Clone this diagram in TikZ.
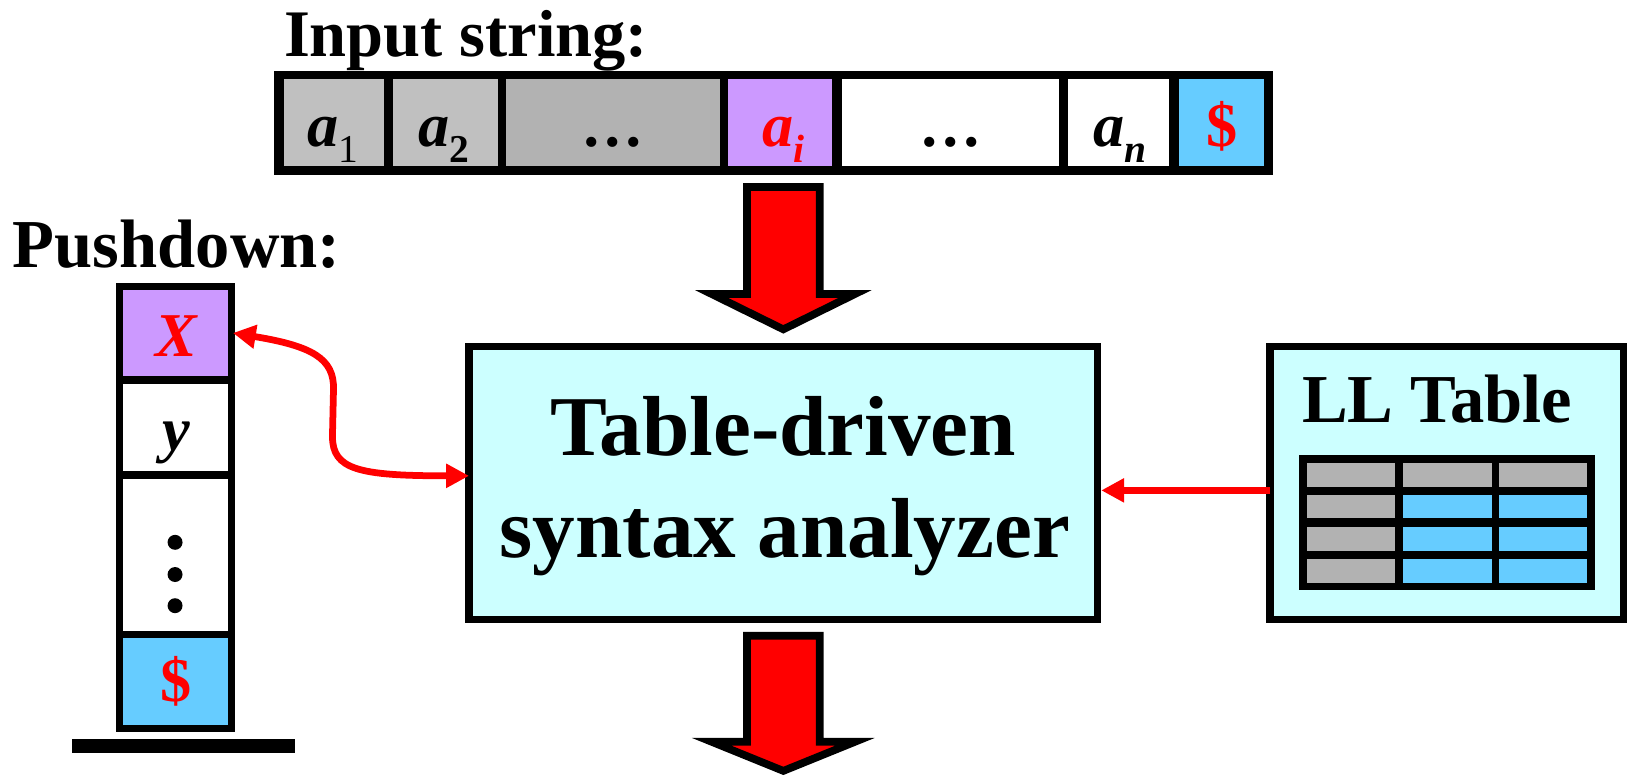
\documentclass[tikz,border=0pt]{standalone}
\usepackage{fontspec}
\setmainfont{Liberation Serif}
\usetikzlibrary{arrows.meta}
\definecolor{graya}{HTML}{C0C0C0}
\definecolor{grayb}{HTML}{B2B2B2}
\definecolor{lav}{HTML}{CC99FF}
\definecolor{skyb}{HTML}{66CCFF}
\definecolor{cyanbg}{HTML}{CCFFFF}
\begin{document}
\begin{tikzpicture}[x=0.5pt,y=-0.5pt,
  lbl/.style={font=\fontsize{32}{38}\selectfont\bfseries, inner sep=0, anchor=base west},
  sym/.style={font=\fontsize{30}{36}\selectfont\bfseries\itshape, inner sep=0, anchor=base},
  dollar/.style={font=\fontsize{30}{36}\selectfont\bfseries, text=red, inner sep=0, anchor=base},
  bigtext/.style={font=\fontsize{41}{49}\selectfont\bfseries, inner sep=0, anchor=base},
  panel/.style={draw=black, line width=3.5pt, fill=cyanbg, inner sep=0, outer sep=0},
  blockarrow/.style={draw=black, line width=3.7pt, fill=red, miter limit=20},
  redline/.style={draw=red, line width=3.25pt, >={Triangle[length=11pt,width=11pt]}}
]
\useasboundingbox (0,0) rectangle (1568,752);

% ---------- Input string ----------
\node[lbl] (inp) at (273,54.5) {Input string:};
\fill[black] (264,68) rectangle (1225,168);
\fill[graya] (273,76) rectangle (370,160);
\fill[graya] (378,76) rectangle (479,160);
\fill[grayb] (487,76) rectangle (693,160);
\fill[lav]   (701,76) rectangle (801,160);
\fill[white] (810,76) rectangle (1019,160);
\fill[white] (1028,76) rectangle (1125,160);
\fill[skyb]  (1135,76) rectangle (1217,160);
\node[sym] (ta1) at (320,141) {a{\normalfont\fontsize{19}{20}\selectfont\raisebox{-7.5pt}{1}}};
\node[sym] (ta2) at (427,141) {a{\upshape\fontsize{19}{20}\selectfont\raisebox{-7.5pt}{2}}};
\node[sym,font=\fontsize{30}{36}\selectfont\bfseries] (tdots1) at (590,141) {…};
\node[sym,text=red] (tai) at (754,141) {a{\fontsize{19}{20}\selectfont\raisebox{-7.5pt}{i}}};
\node[sym,font=\fontsize{30}{36}\selectfont\bfseries] (tdots2) at (915,141) {…};
\node[sym] (tan) at (1078,141) {a{\fontsize{19}{20}\selectfont\raisebox{-7.5pt}{n}}};
\node[dollar] (tend) at (1176,141) {\$};

% ---------- arrow input -> analyzer ----------
\draw[blockarrow] (719,180) -- (789,180) -- (789,283) -- (823,283) -- (754,317)
  -- (685,283) -- (719,283) -- cycle;

% ---------- Pushdown ----------
\node[lbl,font=\fontsize{33}{38}\selectfont\bfseries] (push) at (12,257) {Pushdown:};
\fill[black] (111.6,272) rectangle (226,705);
\node[fill=lav, inner sep=0, outer sep=0, minimum width=50.55pt, minimum height=41.7pt] (stackX) at (169.25,320.5) {};
\fill[white] (118.7,370) rectangle (219.8,453.8);
\fill[white] (118.7,461.3) rectangle (219.8,607);
\fill[skyb]  (118.7,614.5) rectangle (219.8,698.3);
\node[sym,text=red] (tX) at (169.25,342.7) {X};
\node[sym] (ty) at (169.25,434) {y};
\fill[black] (168.5,522) circle[radius=3.6pt];
\fill[black] (168.5,553) circle[radius=3.6pt];
\fill[black] (168.5,583) circle[radius=3.6pt];
\node[dollar] (sdollar) at (169.25,675) {\$};
\fill[black] (69,711) rectangle (284,724.6);

% ---------- main analyzer ----------
\node[panel, minimum width=302.5pt, minimum height=131.5pt] (main) at (754,465) {};
\node[bigtext] (t1) at (754,438) {Table-driven};
\node[bigtext] (t2) at (755.5,537) {syntax analyzer};

% ---------- arrow analyzer -> output ----------
\draw[blockarrow] (719,612) -- (789,612) -- (789,714) -- (823,714) -- (754,742)
  -- (685,714) -- (719,714) -- cycle;

% ---------- LL table ----------
\node[panel, minimum width=170pt, minimum height=131.5pt] (ll) at (1392.5,465) {};
\node[lbl,font=\fontsize{33}{38}\selectfont\bfseries] (lltitle) at (1253,407) {LL Table};
\fill[black] (1250.5,438) rectangle (1535,568);
\foreach \ya/\yb [count=\r] in {445.3/468.4, 476.4/498.9, 506.9/530, 538/560.8}{
  \foreach \xa/\xb [count=\c] in {1258.3/1343, 1350.6/1435.7, 1443/1527.7}{
    \ifnum\r=1 \def\cc{grayb}\else\ifnum\c=1 \def\cc{grayb}\else\def\cc{skyb}\fi\fi
    \fill[\cc] (\xa,\ya) rectangle (\xb,\yb);
  }
}

% ---------- connectors ----------
\draw[redline, ->] ([yshift=-3.5pt]ll.west) -- ([yshift=-3.5pt,xshift=1.75pt]main.east);
\draw[redline, <->] ([xshift=2.2pt]stackX.east)
  .. controls (300,333) and (322,345) .. (321,375) -- (320,420)
  .. controls (320,452) and (345,458) .. ([yshift=3.5pt]main.west);
\end{tikzpicture}
\end{document}
